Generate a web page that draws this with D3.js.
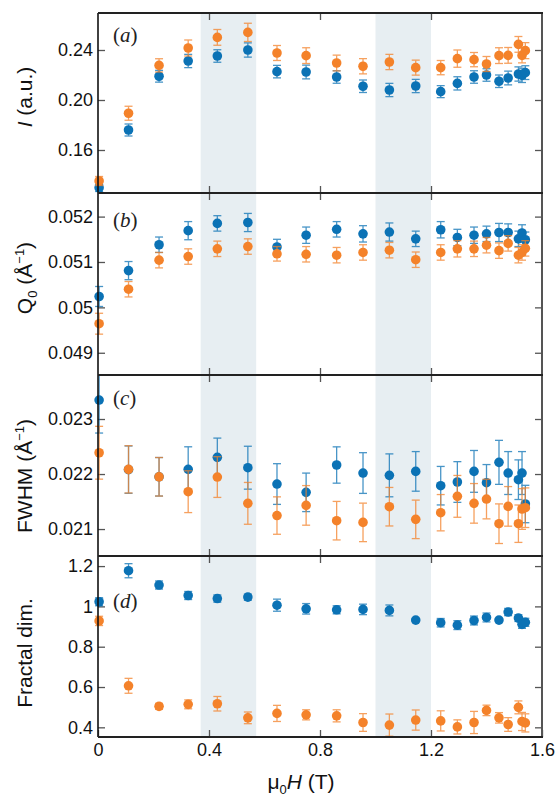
<!DOCTYPE html>
<html>
<head>
<meta charset="utf-8">
<script src="https://cdn.jsdelivr.net/npm/d3@7"></script>
<style>
  body { margin: 0; background: #fff; }
  svg { display: block; font-family: "Liberation Sans", Arial, sans-serif; }
</style>
</head>
<body>
<svg id="chart" width="556" height="799"></svg>
<script>
// field values (T), shared by every panel
var fieldT = [0.004, 0.11, 0.22, 0.325, 0.43, 0.54, 0.645, 0.75, 0.86, 0.955, 1.05,
              1.145, 1.235, 1.295, 1.355, 1.4, 1.445, 1.478, 1.515, 1.528, 1.54];

// shaded field ranges
var bands = [[0.37, 0.57], [1.0, 1.2]];

// (a) intensity
var blueI = [0.1298, 0.176, 0.219, 0.2312, 0.2352, 0.240, 0.2227, 0.2224, 0.2184, 0.2110, 0.2080,
             0.2112, 0.2067, 0.2133, 0.2184, 0.2200, 0.2150, 0.2176, 0.2208, 0.2197, 0.2219];
var blueIErr = [0.003, 0.0048, 0.0047, 0.0053, 0.005, 0.0057, 0.005, 0.0055, 0.005, 0.005, 0.0053,
                0.0053, 0.0048, 0.0053, 0.005, 0.005, 0.005, 0.0055, 0.0057, 0.0057, 0.0055];
var orangeI = [0.1352, 0.1894, 0.2277, 0.2416, 0.2501, 0.2541, 0.2376, 0.2355, 0.2296, 0.2270, 0.2304,
               0.2259, 0.2259, 0.2331, 0.2323, 0.2288, 0.2355, 0.2357, 0.2445, 0.2357, 0.2395];
var orangeIErr = [0.0036, 0.0056, 0.0053, 0.0064, 0.0063, 0.0073, 0.006, 0.0063, 0.0063, 0.0061, 0.0061,
                  0.006, 0.0057, 0.0069, 0.0057, 0.006, 0.0063, 0.0063, 0.0063, 0.006, 0.0064];

// (b) peak position
var blueQ = [0.05024, 0.05081, 0.05138, 0.05169, 0.05185, 0.05187, 0.05133, 0.05159, 0.05172, 0.05162, 0.05166,
             0.05151, 0.05171, 0.05154, 0.05159, 0.05162, 0.05165, 0.05165, 0.05151, 0.05164, 0.05149];
var blueQErr = [0.00022, 0.0002, 0.00017, 0.0002, 0.00017, 0.0002, 0.00017, 0.00018, 0.00017, 0.00018, 0.0002,
                0.00017, 0.00018, 0.00018, 0.00018, 0.00017, 0.0002, 0.00019, 0.00017, 0.00018, 0.00017];
var orangeQ = [0.04964, 0.05040, 0.05104, 0.05112, 0.05129, 0.05134, 0.05118, 0.05117, 0.05115, 0.05121, 0.05126,
               0.05105, 0.05121, 0.05129, 0.05129, 0.05137, 0.05125, 0.05141, 0.05115, 0.05121, 0.05130];
var orangeQErr = [0.00023, 0.00017, 0.00017, 0.00017, 0.00017, 0.00017, 0.00016, 0.00017, 0.00017, 0.00017, 0.00017,
                  0.00017, 0.00017, 0.00018, 0.00017, 0.00017, 0.00017, 0.00017, 0.00017, 0.00017, 0.00017];

// (c) width
var blueW = [0.023345, 0.02208, 0.02195, 0.022085, 0.022303, 0.022115, 0.021818, 0.021667, 0.022164, 0.022018, 0.021976,
             0.022048, 0.021788, 0.021855, 0.022048, 0.021842, 0.022212, 0.022018, 0.021897, 0.022018, 0.021455];
var blueWErr = [0.0006, 0.00043, 0.00035, 0.00041, 0.00035, 0.00039, 0.00037, 0.00035, 0.00033, 0.00037, 0.00039,
                0.00036, 0.00035, 0.00037, 0.00038, 0.00033, 0.0004, 0.00039, 0.00036, 0.00039, 0.00034];
var orangeW = [0.022387, 0.022085, 0.02195, 0.021679, 0.021945, 0.021467, 0.021245, 0.02143, 0.021152, 0.021121, 0.021406,
               0.021176, 0.021297, 0.021594, 0.021467, 0.021545, 0.021097, 0.021412, 0.021097, 0.021364, 0.021388];
var orangeWErr = [0.00048, 0.00043, 0.00035, 0.00038, 0.00037, 0.00038, 0.00034, 0.00036, 0.00035, 0.00035, 0.00035,
                  0.00035, 0.00033, 0.00038, 0.00036, 0.00036, 0.00036, 0.00036, 0.00034, 0.00037, 0.00036];

// (d) fractal dimension
var blueD = [1.023, 1.177, 1.106, 1.054, 1.039, 1.046, 1.006, 0.988, 0.983, 0.985, 0.980,
             0.932, 0.919, 0.907, 0.930, 0.945, 0.932, 0.972, 0.942, 0.911, 0.921];
var blueDErr = [0.02, 0.035, 0.02, 0.02, 0.018, 0.015, 0.03, 0.026, 0.02, 0.026, 0.027,
                0.008, 0.021, 0.022, 0.022, 0.022, 0.008, 0.018, 0.017, 0.02, 0.02];
var orangeD = [0.928, 0.606, 0.504, 0.514, 0.517, 0.447, 0.469, 0.462, 0.457, 0.424, 0.411,
               0.436, 0.432, 0.402, 0.424, 0.484, 0.447, 0.414, 0.499, 0.429, 0.422];
var orangeDErr = [0.023, 0.037, 0.015, 0.022, 0.036, 0.029, 0.04, 0.025, 0.03, 0.044, 0.055,
                  0.05, 0.05, 0.035, 0.055, 0.026, 0.026, 0.034, 0.032, 0.045, 0.045];

var xTicks = [0, 0.4, 0.8, 1.2, 1.6];
var ticksI = [0.16, 0.20, 0.24];
var ticksQ = [0.049, 0.05, 0.051, 0.052];
var ticksW = [0.021, 0.022, 0.023];
var ticksD = [0.4, 0.6, 0.8, 1, 1.2];

var BLUE = '#0b72b5', ORANGE = '#f4822a';
var left = 98, right = 542;

var panels = [
    { top: 13,  bottom: 193, domain: [0.1256, 0.2696], ticks: ticksI, fmt: d3.format('.2f'),
      blue: blueI, blueErr: blueIErr, orange: orangeI, orangeErr: orangeIErr,
      tag: 'a', tagY: 42, titleY: 97 },
    { top: 193, bottom: 375, domain: [0.04851, 0.05252], ticks: ticksQ, fmt: function (d) { return d3.format('.3~f')(d); },
      blue: blueQ, blueErr: blueQErr, orange: orangeQ, orangeErr: orangeQErr,
      tag: 'b', tagY: 227, titleY: 278 },
    { top: 375, bottom: 556, domain: [0.02051, 0.0238], ticks: ticksW, fmt: d3.format('.3f'),
      blue: blueW, blueErr: blueWErr, orange: orangeW, orangeErr: orangeWErr,
      tag: 'c', tagY: 405, titleY: 476 },
    { top: 556, bottom: 737, domain: [0.352, 1.25], ticks: ticksD, fmt: function (d) { return d3.format('.1~f')(d); },
      blue: blueD, blueErr: blueDErr, orange: orangeD, orangeErr: orangeDErr,
      tag: 'd', tagY: 608, titleY: 653 }
];

var svg = d3.select('#chart');
var x = d3.scaleLinear().domain([0, 1.6]).range([left, right]);

panels.forEach(function (p, pi) {
    var y = d3.scaleLinear().domain(p.domain).range([p.bottom, p.top]);
    var g = svg.append('g');

    var clipId = 'clip' + pi;
    svg.append('clipPath').attr('id', clipId)
        .append('rect').attr('x', left - 10).attr('y', p.top).attr('width', right - left + 20).attr('height', p.bottom - p.top);

    // shaded field ranges
    g.selectAll('rect.band').data(bands).enter().append('rect')
        .attr('x', function (d) { return x(d[0]); })
        .attr('width', function (d) { return x(d[1]) - x(d[0]); })
        .attr('y', p.top).attr('height', p.bottom - p.top)
        .attr('fill', '#e7eef2');

    // axes with inward ticks
    var yl = g.append('g').attr('transform', 'translate(' + left + ',0)')
        .call(d3.axisLeft(y).tickValues(p.ticks).tickFormat(p.fmt).tickSizeInner(-7).tickSizeOuter(0).tickPadding(5));
    var yr = g.append('g').attr('transform', 'translate(' + right + ',0)')
        .call(d3.axisRight(y).tickValues(p.ticks).tickFormat('').tickSizeInner(-7).tickSizeOuter(0));
    var xt = g.append('g').attr('transform', 'translate(0,' + p.top + ')')
        .call(d3.axisTop(x).tickValues([0.4, 0.8, 1.2]).tickFormat('').tickSizeInner(-7).tickSizeOuter(0));
    var xb = g.append('g').attr('transform', 'translate(0,' + p.bottom + ')')
        .call(d3.axisBottom(x).tickValues(pi === 3 ? xTicks : [0.4, 0.8, 1.2])
              .tickFormat(pi === 3 ? function (d) { return d3.format('~g')(d); } : '')
              .tickSizeInner(-7).tickSizeOuter(0).tickPadding(6));
    [yl, yr, xt, xb].forEach(function (a) {
        a.select('.domain').remove();
        a.selectAll('.tick line').attr('stroke', '#555').attr('stroke-width', 1.3);
        a.selectAll('.tick text').attr('font-size', 18).attr('fill', '#111')
            .attr('font-family', '"Liberation Sans", Arial, sans-serif');
    });

    // series: blue first, orange on top
    var series = [
        { vals: p.blue, errs: p.blueErr, color: BLUE },
        { vals: p.orange, errs: p.orangeErr, color: ORANGE }
    ];
    var plot = g.append('g').attr('clip-path', 'url(#' + clipId + ')');
    series.forEach(function (s) {
        var pts = fieldT.map(function (f, i) { return { x: f, v: s.vals[i], e: s.errs[i] }; });
        var eb = plot.append('g').attr('stroke', s.color).attr('stroke-width', 1.3).attr('opacity', 0.75);
        eb.selectAll('line.bar').data(pts).enter().append('line')
            .attr('x1', function (d) { return x(d.x); }).attr('x2', function (d) { return x(d.x); })
            .attr('y1', function (d) { return y(d.v - d.e); }).attr('y2', function (d) { return y(d.v + d.e); });
        [1, -1].forEach(function (sg) {
            eb.selectAll(null).data(pts).enter().append('line')
                .attr('x1', function (d) { return x(d.x) - 4; }).attr('x2', function (d) { return x(d.x) + 4; })
                .attr('y1', function (d) { return y(d.v + sg * d.e); }).attr('y2', function (d) { return y(d.v + sg * d.e); });
        });
        plot.append('g').selectAll('circle').data(pts).enter().append('circle')
            .attr('cx', function (d) { return x(d.x); })
            .attr('cy', function (d) { return y(d.v); })
            .attr('r', 4.8)
            .attr('fill', s.color);
    });

    // frame
    g.append('line').attr('x1', left).attr('x2', left).attr('y1', p.top).attr('y2', p.bottom)
        .attr('stroke', '#111').attr('stroke-width', 1.6);
    g.append('line').attr('x1', right).attr('x2', right).attr('y1', p.top).attr('y2', p.bottom)
        .attr('stroke', '#555').attr('stroke-width', 2);
    g.append('line').attr('x1', left).attr('x2', right + 1).attr('y1', p.top).attr('y2', p.top)
        .attr('stroke', '#222').attr('stroke-width', 2);
    g.append('line').attr('x1', left).attr('x2', right + 1).attr('y1', p.bottom).attr('y2', p.bottom)
        .attr('stroke', '#222').attr('stroke-width', 2);

    // panel tag
    var tag = svg.append('text').attr('x', 113).attr('y', p.tagY)
        .attr('font-family', '"Liberation Serif", "Times New Roman", serif').attr('font-size', 21).attr('fill', '#222');
    tag.append('tspan').text('(');
    tag.append('tspan').attr('font-style', 'italic').text(p.tag);
    tag.append('tspan').text(')');
});

// y-axis titles
function yTitle(cy) {
    return svg.append('text')
        .attr('transform', 'translate(32,' + cy + ') rotate(-90)')
        .attr('text-anchor', 'middle').attr('font-size', 21).attr('fill', '#111');
}
var t0 = yTitle(panels[0].titleY);
t0.append('tspan').attr('font-style', 'italic').text('I');
t0.append('tspan').text(' (a.u.)');

var t1 = yTitle(panels[1].titleY);
t1.append('tspan').text('Q');
t1.append('tspan').attr('font-size', 13).attr('dy', 5).text('0');
t1.append('tspan').attr('dy', -5).text(' (Å');
t1.append('tspan').attr('font-size', 13).attr('dy', -8).text('−1');
t1.append('tspan').attr('dy', 8).text(')');

var t2 = yTitle(panels[2].titleY);
t2.append('tspan').text('FWHM (Å');
t2.append('tspan').attr('font-size', 13).attr('dy', -8).text('−1');
t2.append('tspan').attr('dy', 8).text(')');

yTitle(panels[3].titleY).text('Fractal dim.');

// x-axis title
var xt = svg.append('text').attr('x', 301).attr('y', 789)
    .attr('text-anchor', 'middle').attr('font-size', 21).attr('fill', '#111');
xt.append('tspan').text('μ');
xt.append('tspan').attr('font-size', 13).attr('dy', 5).text('0');
xt.append('tspan').attr('dy', -5).attr('font-style', 'italic').text('H');
xt.append('tspan').text(' (T)');
</script>
</body>
</html>
